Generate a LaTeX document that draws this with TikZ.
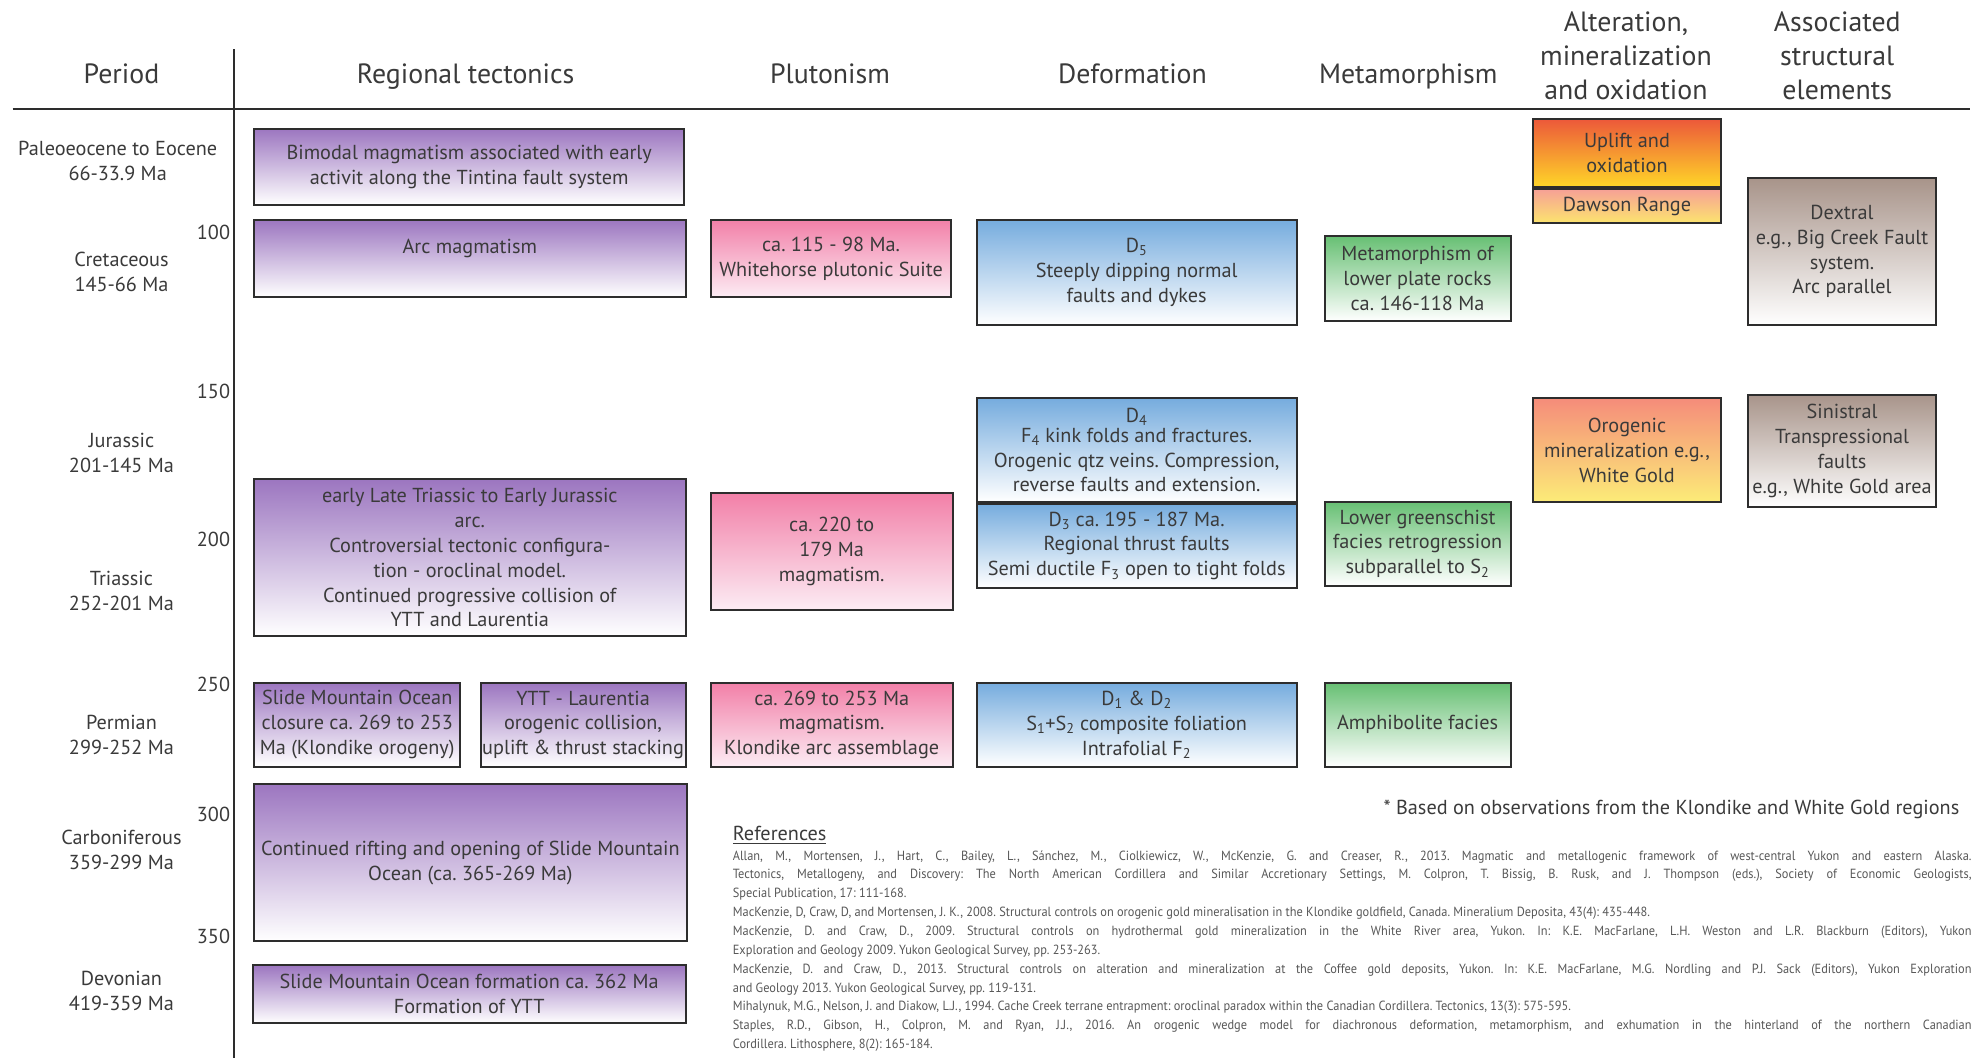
\documentclass[tikz,border=0pt]{standalone}
\usepackage{fontspec}
\setmainfont{PT Sans}
\newfontfamily\reffont[FakeStretch=0.93]{PT Sans}
\usetikzlibrary{positioning}

\definecolor{edge}{RGB}{45,45,45}
\definecolor{ink}{RGB}{58,58,58}
\definecolor{tecttop}{RGB}{156,118,192}
\definecolor{plutotop}{RGB}{242,128,168}
\definecolor{plutobot}{RGB}{252,236,244}
\definecolor{deftop}{RGB}{118,172,222}
\definecolor{metatop}{RGB}{104,192,116}
\definecolor{oxtop}{RGB}{236,88,58}
\definecolor{oxbot}{RGB}{255,214,40}
\definecolor{dawtop}{RGB}{246,160,150}
\definecolor{dawbot}{RGB}{252,228,110}
\definecolor{orotop}{RGB}{245,140,122}
\definecolor{orobot}{RGB}{252,236,120}
\definecolor{strtop}{RGB}{168,148,138}

\tikzset{
  box/.style={draw=edge, line width=1.6pt, inner sep=1pt, align=center, text=ink,
    font=\fontsize{16}{19.6}\selectfont, anchor=north west},
  tect/.style={box, top color=tecttop, bottom color=white},
  pluto/.style={box, top color=plutotop, bottom color=plutobot},
  deform/.style={box, top color=deftop, bottom color=white},
  meta/.style={box, top color=metatop, bottom color=white},
  oxid/.style={box, top color=oxtop, bottom color=oxbot},
  daw/.style={box, top color=dawtop, bottom color=dawbot},
  oro/.style={box, top color=orotop, bottom color=orobot},
  struct/.style={box, top color=strtop, bottom color=white},
  colhead/.style={font=\fontsize{22}{27}\selectfont, align=center, text=ink},
  period/.style={font=\fontsize{16}{19.6}\selectfont, align=center, text=ink},
  agelabel/.style={font=\fontsize{16}{18}\selectfont, anchor=east, inner sep=1pt, text=ink},
  rule/.style={draw=edge, line width=1.8pt}
}

\begin{document}
\frenchspacing
\begin{tikzpicture}[x=1pt,y=1pt,yscale=-1]
    \useasboundingbox (0,0) rectangle (1568,836);

    % frame
    \draw[rule] (185,39) -- (185,836);
    \draw[rule] (10,86) -- (1557,86);

    % column heads
    \node[colhead, anchor=base] (hperiod) at (96,66) {Period};
    \node[colhead, anchor=base] (htect) at (368,66) {Regional tectonics};
    \node[colhead, anchor=base] (hpluto) at (656,66) {Plutonism};
    \node[colhead, anchor=base] (hdeform) at (895,66) {Deformation};
    \node[colhead, anchor=base] (hmeta) at (1113,66) {Metamorphism};
    \node[colhead] (halter) at (1285,44) {Alteration,\\mineralization\\and oxidation};
    \node[colhead] (hstruct) at (1452,44) {Associated\\structural\\elements};

    % periods
    \node[period] (paleo) at (93,127) {Paleoeocene to Eocene\\66-33.9 Ma};
    \node[period] (cret) at (96,215) {Cretaceous\\145-66 Ma};
    \node[period] (jur) at (96,358) {Jurassic\\201-145 Ma};
    \node[period] (tri) at (96,467) {Triassic\\252-201 Ma};
    \node[period] (perm) at (96,581) {Permian\\299-252 Ma};
    \node[period] (carb) at (96,672) {Carboniferous\\359-299 Ma};
    \node[period] (dev) at (96,783) {Devonian\\419-359 Ma};

    % ages (Ma)
    \node[agelabel] (a100) at (183,184) {100};
    \node[agelabel] (a150) at (183,309) {150};
    \node[agelabel] (a200) at (183,426) {200};
    \node[agelabel] (a250) at (183,541) {250};
    \node[agelabel] (a300) at (183,644) {300};
    \node[agelabel] (a350) at (183,740) {350};

    % regional tectonics
    \node[tect, minimum width=340pt, minimum height=60pt] (bimodal) at (200,101)
      {Bimodal magmatism associated with early\\activit along the Tintina fault system};
    \node[tect, minimum width=341pt, minimum height=61pt] (arc) at (200,173)
      {Arc magmatism\\ \mbox{}};
    \node[tect, minimum width=341pt, minimum height=124pt] (triarc) at (200,378)
      {early Late Triassic to Early Jurassic\\arc.\\Controversial tectonic configura-\\tion - oroclinal model.\\Continued progressive collision of\\YTT and Laurentia};
    \node[tect, minimum width=163pt, minimum height=66pt] (smoclose) at (200,539)
      {Slide Mountain Ocean\\closure ca. 269 to 253\\Ma (Klondike orogeny)};
    \node[tect, minimum width=162pt, minimum height=66pt] (yttlau) at (379,539)
      {YTT - Laurentia\\orogenic collision,\\uplift \& thrust stacking};
    \node[tect, minimum width=342pt, minimum height=124pt] (rifting) at (200,619)
      {Continued rifting and opening of Slide Mountain\\Ocean (ca. 365-269 Ma)};
    \node[tect, minimum width=342pt, minimum height=46pt] (smoform) at (199,762)
      {Slide Mountain Ocean formation ca. 362 Ma\\Formation of YTT};

    % plutonism
    \node[pluto, minimum width=190pt, minimum height=61pt] (whitehorse) at (561,173)
      {ca. 115 - 98 Ma.\\Whitehorse plutonic Suite};
    \node[pluto, minimum width=191pt, minimum height=92pt] (trimag) at (561,389)
      {ca. 220 to\\179 Ma\\magmatism.};
    \node[pluto, minimum width=191pt, minimum height=66pt] (klonarc) at (561,539)
      {ca. 269 to 253 Ma\\magmatism.\\Klondike arc assemblage};

    % deformation
    \node[deform, minimum width=253pt, minimum height=83pt] (dfive) at (771,173)
      {D\textsubscript{5}\\Steeply dipping normal\\faults and dykes};
    \node[deform, minimum width=253pt, minimum height=82pt] (dfour) at (771,314)
      {D\textsubscript{4}\\[-4pt]F\textsubscript{4} kink folds and fractures.\\Orogenic qtz veins. Compression,\\reverse faults and extension.};
    \node[deform, minimum width=253pt, minimum height=66pt] (dthree) at (dfour.south west)
      {D\textsubscript{3} ca. 195 - 187 Ma.\\Regional thrust faults\\Semi ductile F\textsubscript{3} open to tight folds};
    \node[deform, minimum width=253pt, minimum height=66pt] (donetwo) at (771,539)
      {D\textsubscript{1} \& D\textsubscript{2}\\S\textsubscript{1}+S\textsubscript{2} composite foliation\\Intrafolial F\textsubscript{2}};

    % metamorphism
    \node[meta, minimum width=147pt, minimum height=67pt] (lowerplate) at (1046,186)
      {Metamorphism of\\lower plate rocks\\ca. 146-118 Ma};
    \node[meta, minimum width=147pt, minimum height=66pt] (greenschist) at (1046,396)
      {Lower greenschist\\facies retrogression\\subparallel to S\textsubscript{2}};
    \node[meta, minimum width=147pt, minimum height=66pt] (amphibolite) at (1046,539)
      {Amphibolite facies};

    % alteration, mineralization and oxidation
    \node[oxid, minimum width=148pt, minimum height=54pt] (uplift) at (1211,93)
      {Uplift and\\oxidation};
    \node[daw, minimum width=148pt, minimum height=27pt] (dawson) at (uplift.south west)
      {Dawson Range};
    \node[oro, minimum width=148pt, minimum height=82pt] (orogenic) at (1211,314)
      {Orogenic\\mineralization e.g.,\\White Gold};

    % structural elements
    \node[struct, minimum width=148pt, minimum height=116pt] (dextral) at (1381,140)
      {Dextral\\e.g., Big Creek Fault\\system.\\Arc parallel};
    \node[struct, minimum width=148pt, minimum height=89pt] (sinistral) at (1381,311)
      {Sinistral\\Transpressional\\faults\\e.g., White Gold area};

    % notes
    \node[anchor=east, text=ink, font=\fontsize{16}{18}\selectfont] (note) at (1552,640)
      {* Based on observations from the Klondike and White Gold regions};
    \node[anchor=west, inner sep=0pt, text=ink, font=\fontsize{16}{18}\selectfont] (refhead) at (579,660)
      {\underline{References}};
    \node[anchor=north west, inner sep=0pt, text width=979pt, align=justify, text=ink!85,
      font=\reffont\fontsize{10.5}{14.9}\selectfont] (reflist) at (579,672)
      {Allan, M., Mortensen, J., Hart, C., Bailey, L., Sánchez, M., Ciolkiewicz, W., McKenzie, G. and Creaser, R., 2013. Magmatic and metallogenic framework of west-central Yukon and eastern Alaska.\linebreak
       Tectonics, Metallogeny, and Discovery: The North American Cordillera and Similar Accretionary Settings, M. Colpron, T. Bissig, B. Rusk, and J. Thompson (eds.), Society of Economic Geologists,\linebreak
       Special Publication, 17: 111-168.\\
       MacKenzie, D, Craw, D, and Mortensen, J. K., 2008. Structural controls on orogenic gold mineralisation in the Klondike goldfield, Canada. Mineralium Deposita, 43(4): 435-448.\\
       MacKenzie, D. and Craw, D., 2009. Structural controls on hydrothermal gold mineralization in the White River area, Yukon. In: K.E. MacFarlane, L.H. Weston and L.R. Blackburn (Editors), Yukon\linebreak
       Exploration and Geology 2009. Yukon Geological Survey, pp. 253-263.\\
       MacKenzie, D. and Craw, D., 2013. Structural controls on alteration and mineralization at the Coffee gold deposits, Yukon. In: K.E. MacFarlane, M.G. Nordling and P.J. Sack (Editors), Yukon Exploration\linebreak
       and Geology 2013. Yukon Geological Survey, pp. 119-131.\\
       Mihalynuk, M.G., Nelson, J. and Diakow, L.J., 1994. Cache Creek terrane entrapment: oroclinal paradox within the Canadian Cordillera. Tectonics, 13(3): 575-595.\\
       Staples, R.D., Gibson, H., Colpron, M. and Ryan, J.J., 2016. An orogenic wedge model for diachronous deformation, metamorphism, and exhumation in the hinterland of the northern Canadian\linebreak
       Cordillera. Lithosphere, 8(2): 165-184.};

\end{tikzpicture}
\end{document}
